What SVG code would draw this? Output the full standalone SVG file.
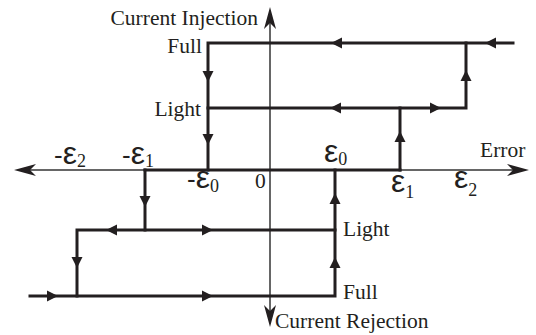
<svg xmlns="http://www.w3.org/2000/svg" width="536" height="335" viewBox="0 0 536 335">
<style>
.ax{stroke:#333;stroke-width:1.5;fill:none}
.th{stroke:#231f20;stroke-width:3;fill:none;stroke-linecap:square}
.ah{fill:#231f20}
.lb{font-family:"Liberation Serif","Times New Roman",serif;font-size:21.5px;fill:#231f20}
.ep{font-family:"Liberation Sans",Arial,sans-serif;font-size:26px;fill:#231f20}
.e{font-size:32px}
.sb{font-family:"Liberation Serif","Times New Roman",serif;font-size:18px}
</style>
<defs>
<path id="tri" d="M0,0 L-11,-5.5 L-11,5.5 Z"/>
<path id="axh" d="M0,0 L-22,-6 L-16,0 L-22,6 Z"/>
</defs>
<g id="axes">
<line class="ax" x1="18" y1="170" x2="524" y2="170"/>
<line class="ax" x1="270" y1="12" x2="270" y2="322"/>
<use href="#axh" class="ah" transform="translate(529,170)"/>
<use href="#axh" class="ah" transform="translate(14,170) rotate(180)"/>
<use href="#axh" class="ah" transform="translate(270,7) rotate(-90)"/>
<use href="#axh" class="ah" transform="translate(270,327) rotate(90)"/>
</g>
<g id="connectors">
<path class="th" d="M513,43 H208 V170"/>
<path class="th" d="M208,108 H466 V43"/>
<path class="th" d="M400,108 V170"/>
<path class="th" d="M145,170 H400"/>
<path class="th" d="M145,170 V230"/>
<path class="th" d="M77,296 V230 H335"/>
<path class="th" d="M30,296 H335 V170"/>
<g class="ah">
<use href="#tri" transform="translate(331,43) rotate(180)"/>
<use href="#tri" transform="translate(485,43) rotate(180)"/>
<use href="#tri" transform="translate(330,108) rotate(180)"/>
<use href="#tri" transform="translate(441,108)"/>
<use href="#tri" transform="translate(466,70) rotate(-90)"/>
<use href="#tri" transform="translate(400,131) rotate(-90)"/>
<use href="#tri" transform="translate(208,82) rotate(90)"/>
<use href="#tri" transform="translate(208,145) rotate(90)"/>
<use href="#tri" transform="translate(145,207) rotate(90)"/>
<use href="#tri" transform="translate(106,230) rotate(180)"/>
<use href="#tri" transform="translate(213,230)"/>
<use href="#tri" transform="translate(77,268) rotate(90)"/>
<use href="#tri" transform="translate(58,296)"/>
<use href="#tri" transform="translate(213,296)"/>
<use href="#tri" transform="translate(335,193) rotate(-90)"/>
<use href="#tri" transform="translate(335,257) rotate(-90)"/>
</g>
</g>
<g id="labels">
<text class="lb" x="258" y="25" text-anchor="end">Current Injection</text>
<text class="lb" x="202" y="53" text-anchor="end">Full</text>
<text class="lb" x="201" y="116" text-anchor="end">Light</text>
<text class="lb" x="480" y="157">Error</text>
<text class="lb" x="343" y="236">Light</text>
<text class="lb" x="343" y="299">Full</text>
<text class="lb" x="275" y="328">Current Rejection</text>
<text class="lb" x="255" y="188">0</text>
<text class="ep" x="54" y="164">-<tspan class="e">ε</tspan><tspan class="sb" dy="3">2</tspan></text>
<text class="ep" x="122" y="164">-<tspan class="e">ε</tspan><tspan class="sb" dy="3">1</tspan></text>
<text class="ep" x="187" y="188">-<tspan class="e">ε</tspan><tspan class="sb" dy="4">0</tspan></text>
<text class="ep" x="324" y="162"><tspan class="e">ε</tspan><tspan class="sb" dy="3">0</tspan></text>
<text class="ep" x="391" y="192"><tspan class="e">ε</tspan><tspan class="sb" dy="6">1</tspan></text>
<text class="ep" x="454" y="188"><tspan class="e">ε</tspan><tspan class="sb" dy="8">2</tspan></text>
</g>
</svg>
